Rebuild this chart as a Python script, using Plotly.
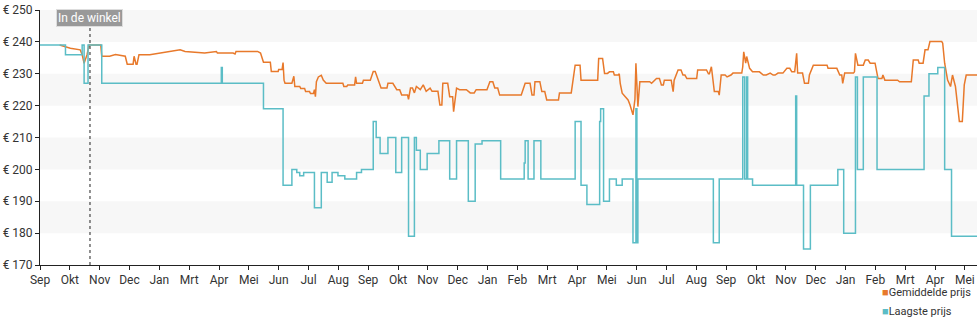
import plotly.graph_objects as go

# x positions are in days since the first tick ("Sep")
tick_labels = ["Sep", "Okt", "Nov", "Dec", "Jan", "Mrt", "Apr", "Mei", "Jun", "Jul", "Aug",
               "Sep", "Okt", "Nov", "Dec", "Jan", "Feb", "Mrt", "Apr", "Mei", "Jun", "Jul",
               "Aug", "Sep", "Okt", "Nov", "Dec", "Jan", "Feb", "Mrt", "Apr", "Mei"]
tick_step_days = 30.44
price_ticks = [170, 180, 190, 200, 210, 220, 230, 240, 250]
store_day = 51
store_label = "In de winkel"
series_names = ["Gemiddelde prijs", "Laagste prijs"]

low_days = [0, 26, 43, 45, 49, 63, 185, 186, 228, 248, 257, 262, 265, 269, 280, 287, 293, 298,
            304, 311, 323, 328, 340, 343, 347, 355, 363, 369, 376, 382, 384, 388, 395, 407,
            418, 425, 437, 444, 451, 470, 494, 495, 498, 504, 511, 546, 552, 558, 571, 572,
            575, 581, 588, 594, 605, 608, 609, 610, 687, 693, 717, 719, 721, 722, 727, 771,
            772, 779, 786, 814, 820, 832, 834, 840, 854, 902, 907, 916, 923, 930, 956]
low_price = [239, 236, 239, 227, 239, 227, 232, 227, 219, 195, 200, 199, 198, 199, 188, 199, 196, 199,
             198, 197, 199, 200, 215, 210, 205, 210, 199, 210, 179, 210, 206, 200, 205, 209,
             197, 209, 190, 208, 209, 197, 202, 209, 197, 209, 197, 215, 195, 189, 215, 219,
             190, 197, 195, 197, 177, 219, 177, 197, 177, 197, 229, 197, 229, 197, 195, 223,
             195, 175, 195, 200, 180, 229, 200, 229, 200, 223, 230, 232, 200, 179, 179]

avg_days = [20, 26, 31, 41, 43, 45, 47, 48, 50, 62, 63, 71, 77, 87, 89, 95, 96, 98, 99, 101,
            112, 122, 143, 148, 163, 168, 180, 181, 197, 199, 200, 222, 225, 228, 235, 236,
            243, 243.5, 247, 248, 249, 250, 257, 259, 260, 265, 266, 270, 271, 275, 276, 279,
            280, 281, 282, 284, 287, 289, 292, 309, 310, 313, 314, 321, 322, 323, 329, 330,
            337, 340, 342, 344, 347, 348, 354, 355, 360, 362, 364, 367, 369, 375, 376, 378,
            380, 382, 384, 388, 391, 394, 398, 400, 406, 408, 410, 411, 416, 418, 421, 422,
            425, 428, 435, 439, 443, 445, 456, 459, 462, 464, 467, 469, 491, 495, 500, 502,
            504, 505, 510, 512, 515, 517, 529, 530, 542, 546, 551, 552, 569, 570, 574, 576,
            579, 581, 585, 586, 590, 591, 592, 594, 597, 600, 602, 605, 607, 608, 610, 612,
            622, 624, 629, 632, 634, 636, 637, 644, 646, 647, 651, 654, 656, 658, 660, 670,
            671, 680, 682, 683, 685, 688, 692, 693, 695, 699, 701, 705, 707, 716, 717, 718,
            720, 721, 724, 727, 734, 738, 741, 745, 748, 750, 753, 758, 762, 765, 767, 770,
            772, 773, 778, 780, 784, 785, 789, 803, 804, 813, 816, 818, 819, 821, 830, 831,
            832, 834, 834.5, 840, 842, 845, 847, 852, 855, 859, 860, 862, 875, 877, 889, 891,
            896, 897, 901, 903, 906, 908, 920, 921, 923, 926, 929, 931, 934, 938, 941, 943,
            945, 956]
avg_price = [239, 238.5, 238, 237.5, 236, 233.3, 235, 236, 239, 239, 235.5, 235.5, 236, 235.5, 233, 233, 235.5, 233, 233, 236,
             236, 236.5, 237.5, 237, 236.7, 236.5, 237, 236.5, 236.5, 236.2, 237, 237, 236.5, 233.6, 233.6, 230.7,
             230.7, 231.3, 231.3, 233.5, 228, 227, 227, 229.2, 226, 226, 225.4, 225.4, 224.4, 224.4, 223.8, 223.8,
             225, 222.8, 227.5, 229, 229.5, 228, 227, 227, 226, 226, 226.5, 226.5, 229, 227, 227, 228,
             228, 230.7, 230.7, 229, 226.5, 225.5, 225.5, 227, 227, 226, 225, 225, 223.3, 223.3, 222, 225.5,
             225.5, 224, 226, 225, 226.5, 224.5, 225.5, 224.5, 224.5, 220.2, 220.2, 227, 227, 222.8, 222.8, 218.1,
             225.5, 225, 225, 224, 224, 225, 225, 227.5, 227.5, 225.5, 225.5, 223.3, 223.3, 227, 227, 223.3,
             223.3, 227.5, 227.5, 224.4, 224.4, 221.8, 221.8, 224, 224, 232.7, 232.7, 228, 228, 234.8, 234.8, 230.1,
             230.1, 230.6, 230.6, 229.6, 229.6, 230, 227, 223.9, 222.8, 221.8, 220.2, 217.1, 222, 233.3, 219.7, 227.5,
             227.5, 227, 228.5, 228.5, 226.5, 226.5, 228, 228, 224.4, 228, 231.2, 231.2, 229.6, 229.6, 228.5, 228.5,
             231.2, 231.2, 230, 230, 232.2, 224.4, 224.4, 223.3, 229.6, 229.6, 229, 229.6, 230.2, 230.2, 232.2, 236.9,
             233.3, 235.4, 231.7, 230.6, 230.6, 229.6, 229.6, 230.2, 229.6, 229.6, 230.2, 230.2, 231.7, 231.7, 230.6, 230.6,
             236.4, 230.2, 230.2, 227, 227, 229.6, 232.7, 232.7, 231.7, 231.7, 229.6, 229.6, 227, 230.2, 230.2, 230.6,
             236.4, 233.8, 232.7, 232.7, 234.3, 234.3, 233.3, 233.3, 228.5, 228.5, 229.6, 228, 228, 227.5, 227.5, 234.3,
             234.3, 233.3, 233.3, 237.5, 237.5, 240.1, 240.1, 239.6, 233.3, 228, 226, 229.6, 226, 215, 215, 226.5,
             229.6, 229.6]

ORANGE = "#e8792b"
CYAN = "#5bbdc6"
FONT = "Roboto"

fig = go.Figure()

fig.add_trace(go.Scatter(x=avg_days, y=avg_price, mode="lines", line=dict(color=ORANGE, width=1.5),
                         showlegend=False, hoverinfo="skip"))
fig.add_trace(go.Scatter(x=low_days, y=low_price, mode="lines", line=dict(color=CYAN, width=1.5, shape="hv"),
                         showlegend=False, hoverinfo="skip"))
# legend entries: small coloured squares directly before the text
for name, col in zip(series_names, [ORANGE, CYAN]):
    fig.add_trace(go.Scatter(x=[None], y=[None], mode="markers",
                             name=f'<span style="color:{col}">■</span>{name}',
                             marker=dict(symbol="square", size=0.1, color="rgba(0,0,0,0)",
                                         line=dict(width=0))))

# alternating horizontal bands
shapes = []
for lo in price_ticks[1:-1:2]:
    shapes.append(dict(type="rect", xref="paper", yref="y", x0=0, x1=1, y0=lo, y1=lo + 10,
                       fillcolor="#f7f7f7", line=dict(width=0), layer="below"))
shapes.append(dict(type="line", xref="x", yref="paper", x0=store_day, x1=store_day, y0=0, y1=0.99,
                   line=dict(color="#222", width=1, dash="dot")))

fig.update_layout(
    width=980, height=325,
    margin=dict(l=40, r=3, t=10, b=60, autoexpand=False),
    paper_bgcolor="white", plot_bgcolor="white",
    font=dict(family=FONT, size=12, color="#333"),
    shapes=shapes,
    showlegend=True,
    legend=dict(x=1.0, xanchor="right", y=-0.235, yanchor="bottom", orientation="v",
                font=dict(family=FONT, size=11, color="#333"), itemwidth=30,
                tracegroupgap=0, bgcolor="rgba(0,0,0,0)"),
    annotations=[dict(x=store_day, xref="x", y=0.967, yref="paper", text=store_label, showarrow=False,
                      font=dict(family=FONT, size=12, color="white"), bgcolor="#999999",
                      bordercolor="#dddddd", borderwidth=1, borderpad=1,
                      xanchor="center", yanchor="middle")],
)

fig.update_xaxes(range=[0, 956], tickmode="array",
                 tickvals=[i * tick_step_days for i in range(len(tick_labels))],
                 ticktext=tick_labels, showgrid=False, zeroline=False,
                 showline=True, linecolor="#222", linewidth=1,
                 ticks="outside", ticklen=4, tickcolor="#222",
                 tickfont=dict(family=FONT, size=12, color="#333"))
fig.update_yaxes(range=[170, 250], tickmode="array", tickvals=price_ticks,
                 ticktext=[f"€ {v}" for v in price_ticks], showgrid=False, zeroline=False,
                 showline=True, linecolor="#222", linewidth=1,
                 ticks="outside", ticklen=4, tickcolor="#222",
                 tickfont=dict(family=FONT, size=12, color="#333"))

fig.write_html("out.html")
